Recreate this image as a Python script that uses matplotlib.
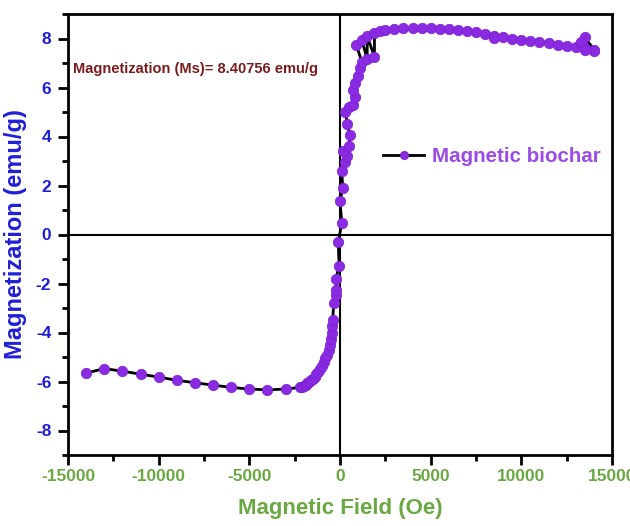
import matplotlib
matplotlib.use("Agg")
import matplotlib.pyplot as plt
from matplotlib.ticker import MultipleLocator

plt.rcParams["font.family"] = ["Liberation Sans", "DejaVu Sans"]
plt.rcParams["axes.unicode_minus"] = False

# Magnetic field (Oe) and magnetization (emu/g), in measurement order
field = [-14000, -13000, -12000, -11000, -10000, -9000, -8000, -7000, -6000, -5000, -4000, -3000,
         -2200, -2100, -2000, -1900, -1800, -1700, -1600, -1500, -1400, -1300, -1200, -1100,
         -1000, -900, -800, -700, -600, -550, -500, -450, -420, -400, -350, -220, -200, -220,
         -50, -100, 100, 0, 150, 100, 250, 400, 150, 500, 550, 400, 300, 500, 700, 800, 700,
         800, 1000, 1100, 1200, 900, 1200, 1500, 1500, 1900, 1900, 2200,
         2500, 3000, 3500, 4000, 4500, 5000, 5500, 6000, 6500, 7000, 7500, 8000, 8500, 8500,
         9000, 9500, 10000, 10500, 11000, 11500, 12000, 12500, 13000, 13500, 14000,
         13500, 13300, 14000, 13500]
moment = [-5.66, -5.47, -5.58, -5.70, -5.82, -5.95, -6.05, -6.15, -6.24, -6.31, -6.34, -6.31,
          -6.24, -6.22, -6.18, -6.13, -6.08, -6.02, -5.95, -5.88, -5.80, -5.70, -5.60, -5.48,
          -5.35, -5.20, -5.05, -4.90, -4.70, -4.50, -4.25, -4.00, -3.75, -3.50, -2.80, -2.45, -2.25, -1.80,
          -1.27, -0.30, 0.45, 1.35, 1.90, 2.60, 2.95, 3.20, 3.40, 3.60, 4.05, 4.50, 5.00, 5.20, 5.30, 5.60, 5.90,
          6.20, 6.45, 6.80, 7.05, 7.75, 7.95, 7.15, 8.10, 7.25, 8.22, 8.30,
          8.35, 8.40, 8.42, 8.42, 8.42, 8.41, 8.40, 8.38, 8.35, 8.30, 8.25, 8.20, 8.12, 8.02,
          8.05, 8.00, 7.95, 7.90, 7.85, 7.80, 7.75, 7.70, 7.65, 7.60, 7.55,
          8.05, 7.85, 7.50, 7.55]

x_ticks = [-15000, -10000, -5000, 0, 5000, 10000, 15000]
y_ticks = [-8, -6, -4, -2, 0, 2, 4, 6, 8]
series_label = "Magnetic biochar"
annotation = "Magnetization (Ms)= 8.40756 emu/g"

fig = plt.figure(figsize=(6.30, 5.26), dpi=100)
ax = fig.add_axes([68/630, 1 - 455/526, (612-68)/630, (455-14)/526])

ax.axhline(0, color="black", lw=1.5, zorder=1)
ax.axvline(0, color="black", lw=1.5, zorder=1)

ax.plot(field, moment, color="black", lw=2, marker="o", markersize=7.5,
        markerfacecolor="#8a2be2", markeredgecolor="#7a1fd6", markeredgewidth=0.5,
        label=series_label, zorder=3)

ax.set_xlim(-15000, 15000)
ax.set_ylim(-9, 9)
ax.set_xticks(x_ticks)
ax.set_yticks(y_ticks)
ax.xaxis.set_minor_locator(MultipleLocator(2500))
ax.yaxis.set_minor_locator(MultipleLocator(1))
ax.tick_params(which="major", direction="out", length=7, width=2)
ax.tick_params(axis="x", which="major", pad=3)
ax.tick_params(axis="y", which="major", pad=5)
ax.tick_params(which="minor", direction="out", length=4, width=2)
ax.tick_params(top=False, right=False, which="both")
for s in ax.spines.values():
    s.set_linewidth(2)

for lab in ax.get_xticklabels():
    lab.set_color("#6aa842"); lab.set_fontweight("bold"); lab.set_fontsize(12.5)
for lab in ax.get_yticklabels():
    lab.set_color("#1f1fd6"); lab.set_fontweight("bold"); lab.set_fontsize(12.5)

ax.set_xlabel("Magnetic Field (Oe)", color="#6aa842", fontsize=16, fontweight="bold", labelpad=10)
ax.set_ylabel("Magnetization (emu/g)", color="#1f1fd6", fontsize=17, fontweight="bold", labelpad=6)

ax.text(-14700, 6.75, annotation, color="#7b1c1c", fontsize=10.5, fontweight="bold", va="center", ha="left")

leg = ax.legend(loc="center left", bbox_to_anchor=(0.545, 0.676), frameon=False,
                prop={"weight": "bold", "size": 14.8}, handlelength=2.0, handletextpad=0.4,
                markerscale=0.8)
for t in leg.get_texts():
    t.set_color("#9b4be6")

fig.savefig("out.png", dpi=100)
